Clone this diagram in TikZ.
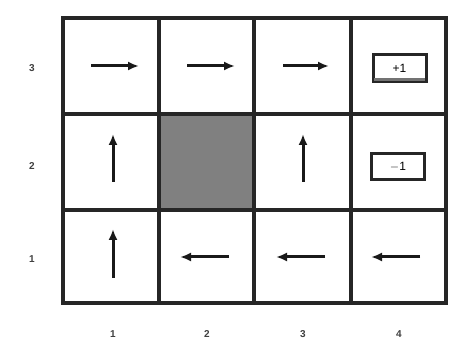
\documentclass[tikz,border=0pt]{standalone}
\usepackage{fontspec}
\setmainfont{Liberation Sans}
\usetikzlibrary{arrows.meta}
\begin{document}
\begin{tikzpicture}[x=1pt,y=-1pt,
  grid/.style={line width=3.6pt,black!85},
  pol/.style={line width=3pt,black!90,-{Latex[length=11pt,width=9pt]}},
  lbl/.style={font=\fontsize{10}{11}\selectfont\bfseries,text=black!75},
  rbox/.style={draw=black!85,line width=3pt,fill=white,minimum width=53pt,minimum height=27pt,inner sep=0pt,font=\fontsize{12}{13}\selectfont}]
\useasboundingbox (0,0) rectangle (453,339);
\fill[white] (0,0) rectangle (453,339);
% blocked cell
\fill[black!50] (159,114) rectangle (254,210);
% grid
\draw[grid] (63,18) rectangle (446,303);
\draw[grid] (159,18) -- (159,303);
\draw[grid] (254,18) -- (254,303);
\draw[grid] (351,18) -- (351,303);
\draw[grid] (63,114) -- (446,114);
\draw[grid] (63,210) -- (446,210);
% policy arrows
\coordinate (a1s) at (91,66);  \coordinate (a1e) at (139,66);
\coordinate (a2s) at (187,66); \coordinate (a2e) at (235,66);
\coordinate (a3s) at (283,66); \coordinate (a3e) at (329,66);
\coordinate (b1s) at (113,182); \coordinate (b1e) at (113,134);
\coordinate (b3s) at (303,182); \coordinate (b3e) at (303,134);
\coordinate (c1s) at (113,278); \coordinate (c1e) at (113,229);
\coordinate (c2s) at (229,257); \coordinate (c2e) at (180,257);
\coordinate (c3s) at (325,257); \coordinate (c3e) at (276,257);
\coordinate (c4s) at (420,257); \coordinate (c4e) at (371,257);
\draw[pol] (a1s) -- (a1e);
\draw[pol] (a2s) -- (a2e);
\draw[pol] (a3s) -- (a3e);
\draw[pol] (b1s) -- (b1e);
\draw[pol] (b3s) -- (b3e);
\draw[pol] (c1s) -- (c1e);
\draw[pol] (c2s) -- (c2e);
\draw[pol] (c3s) -- (c3e);
\draw[pol] (c4s) -- (c4e);
% reward boxes
\node[rbox] (plus) at (399.5,68) {+1};
\fill[black!55] (374,78) rectangle (425,81.5);
\node[rbox,minimum height=26pt] (minus) at (398,166.5) {$-$1};
% row labels
\node[lbl] (r3) at (32,68) {3};
\node[lbl] (r2) at (32,166) {2};
\node[lbl] (r1) at (32,259) {1};
% column labels
\node[lbl] (k1) at (113,334) {1};
\node[lbl] (k2) at (207,334) {2};
\node[lbl] (k3) at (303,334) {3};
\node[lbl] (k4) at (399,334) {4};
\end{tikzpicture}
\end{document}
